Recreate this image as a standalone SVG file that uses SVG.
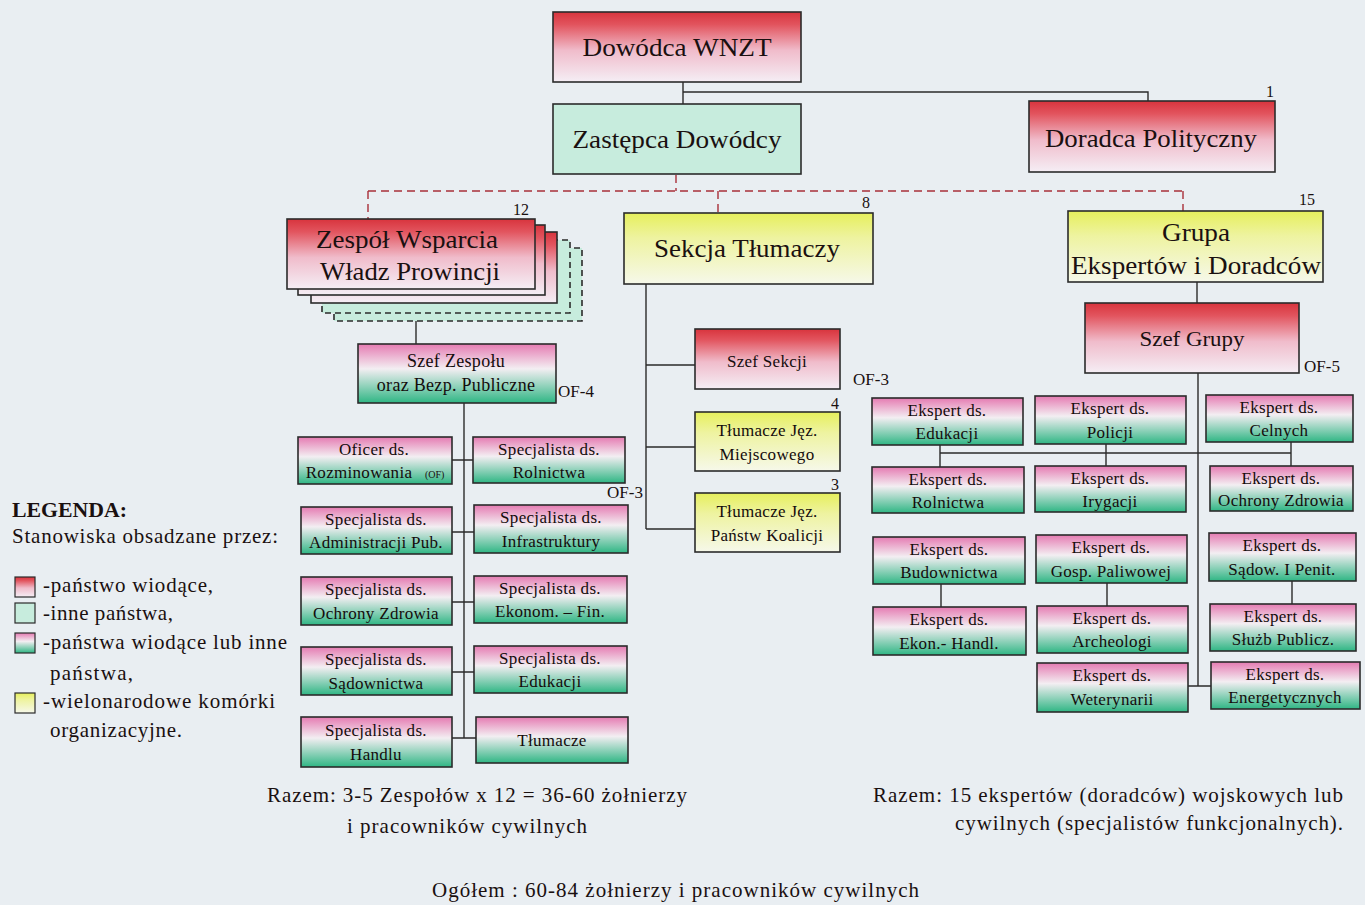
<svg xmlns="http://www.w3.org/2000/svg" width="1365" height="905" viewBox="0 0 1365 905">
  <defs>
    <linearGradient id="gRed" x1="0" y1="0" x2="0" y2="1">
      <stop offset="0" stop-color="#d8343d"/>
      <stop offset="0.18" stop-color="#e2545e"/>
      <stop offset="0.55" stop-color="#f0bccb"/>
      <stop offset="1" stop-color="#f5eef5"/>
    </linearGradient>
    <linearGradient id="gPinkGreen" x1="0" y1="0" x2="0" y2="1">
      <stop offset="0" stop-color="#e57bb2"/>
      <stop offset="0.42" stop-color="#f3eef2"/>
      <stop offset="1" stop-color="#2fb684"/>
    </linearGradient>
    <linearGradient id="gYellow" x1="0" y1="0" x2="0" y2="1">
      <stop offset="0" stop-color="#e6ef5c"/>
      <stop offset="0.35" stop-color="#eef3a0"/>
      <stop offset="1" stop-color="#f6f8ea"/>
    </linearGradient>
    <style>
      .bg { fill: #e9eef2; }
      .box { stroke: #2b2b2b; stroke-width: 1.6; }
      .red { fill: url(#gRed); }
      .pg { fill: url(#gPinkGreen); }
      .mint { fill: #c7ecdd; }
      .yel { fill: url(#gYellow); }
      .dash { stroke-dasharray: 6 4; }
      .big { font-family: "Liberation Serif", "Times New Roman", serif; font-size: 26px; fill: #1a1010; text-anchor: middle; }
      .mid { font-family: "Liberation Serif", "Times New Roman", serif; font-size: 21px; fill: #1a1010; text-anchor: middle; }
      .sm { font-family: "Liberation Serif", "Times New Roman", serif; font-size: 17px; fill: #140c0c; text-anchor: middle; letter-spacing: 0.3px; }
      .tag { font-family: "Liberation Serif", "Times New Roman", serif; font-size: 17px; fill: #1a1010; }
      .num { font-family: "Liberation Serif", "Times New Roman", serif; font-size: 16px; fill: #1a1010; }
      .leg { font-family: "Liberation Serif", "Times New Roman", serif; font-size: 21px; fill: #1a1010; }
      .ln { stroke: #2b2b2b; stroke-width: 1.4; fill: none; }
      .dln { stroke: #a8303a; stroke-width: 1.4; fill: none; stroke-dasharray: 8 5; }
    </style>
  </defs>

  <rect class="bg" x="0" y="0" width="1365" height="905"/>

  <!-- connectors -->
  <g id="connectors">
    <path class="ln" d="M683 82 V104 M683 92 H1148 V101"/>
    <path class="dln" d="M676 175 V191 M368 191 H1183 M368 191 V219 M718 191 V213 M1183 191 V211"/>
    <path class="ln" d="M416 320 V344"/>
    <path class="ln" d="M464 403 V738"/>
    <path class="ln" d="M452 460 H474 M452 532 H474 M452 602 H474 M452 672 H474 M452 738 H476"/>
    <path class="ln" d="M646 284 V529 M646 365 H695 M646 447 H695 M646 529 H695"/>
    <path class="ln" d="M1197 282 V303"/>
    <path class="ln" d="M1198 373 V686 M1188 686 H1211"/>
    <path class="ln" d="M940 453 H1291 M940 445 V467 M1106 444 V466 M1291 442 V466"/>
    <path class="ln" d="M941 584 V607 M1107 583 V606 M1292 581 V604"/>
  </g>

  <!-- top level -->
  <g id="dowodca">
    <rect class="box red" x="553" y="12" width="248" height="70"/>
    <text class="big" x="677" y="56" textLength="189" lengthAdjust="spacingAndGlyphs">Dowódca WNZT</text>
  </g>
  <g id="zastepca">
    <rect class="box mint" x="553" y="104" width="248" height="70"/>
    <text class="big" x="677" y="148" textLength="209" lengthAdjust="spacingAndGlyphs">Zastępca Dowódcy</text>
  </g>
  <g id="doradca">
    <rect class="box red" x="1029" y="101" width="246" height="71"/>
    <text class="big" x="1151" y="147" textLength="212" lengthAdjust="spacingAndGlyphs">Doradca Polityczny</text>
    <text class="num" x="1266" y="97">1</text>
  </g>

  <!-- team stack -->
  <g id="zespol">
    <rect class="box mint dash" x="334" y="248" width="248" height="73"/>
    <rect class="box mint dash" x="322" y="240" width="248" height="73"/>
    <rect class="box red" x="311" y="232" width="246" height="71"/>
    <rect class="box red" x="298" y="225" width="247" height="70"/>
    <rect class="box red" x="287" y="219" width="248" height="70"/>
    <text class="big" x="407" y="248" textLength="182" lengthAdjust="spacingAndGlyphs">Zespół Wsparcia</text>
    <text class="big" x="410" y="280" textLength="180" lengthAdjust="spacingAndGlyphs">Władz Prowincji</text>
    <text class="num" x="513" y="215">12</text>
  </g>

  <g id="sekcja">
    <rect class="box yel" x="624" y="213" width="249" height="71"/>
    <text class="big" x="747" y="257" textLength="186" lengthAdjust="spacingAndGlyphs">Sekcja Tłumaczy</text>
    <text class="num" x="862" y="208">8</text>
  </g>

  <g id="grupa">
    <rect class="box yel" x="1068" y="211" width="255" height="71"/>
    <text class="big" x="1196" y="241" textLength="68" lengthAdjust="spacingAndGlyphs">Grupa</text>
    <text class="big" x="1196" y="274" textLength="250" lengthAdjust="spacingAndGlyphs">Ekspertów i Doradców</text>
    <text class="num" x="1299" y="205">15</text>
  </g>

  <!-- team members -->
  <g id="szef-zespolu">
    <rect class="box pg" x="358" y="344" width="198" height="59"/>
    <text class="sm" x="456" y="367" style="font-size:18px">Szef Zespołu</text>
    <text class="sm" x="456" y="391" style="font-size:18px">oraz Bezp. Publiczne</text>
    <text class="tag" x="558" y="397">OF-4</text>
  </g>
  <g id="oficer-rozminowania">
    <rect class="box pg" x="298" y="437" width="154" height="47"/>
    <text class="sm" x="374" y="455">Oficer ds.</text>
    <text class="sm" x="359" y="478">Rozminowania</text>
    <text x="425" y="478" style="font-family:'Liberation Serif',serif;font-size:10px;fill:#1a1010">(OF)</text>
  </g>
  <g id="spec-rolnictwa">
    <rect class="box pg" x="473" y="437" width="152" height="46"/>
    <text class="sm" x="549" y="455">Specjalista ds.</text>
    <text class="sm" x="549" y="478">Rolnictwa</text>
    <text class="tag" x="607" y="498">OF-3</text>
  </g>
  <g id="spec-administracji">
    <rect class="box pg" x="301" y="507" width="151" height="47"/>
    <text class="sm" x="376" y="525">Specjalista ds.</text>
    <text class="sm" x="376" y="548">Administracji Pub.</text>
  </g>
  <g id="spec-infrastruktury">
    <rect class="box pg" x="474" y="505" width="154" height="48"/>
    <text class="sm" x="551" y="523">Specjalista ds.</text>
    <text class="sm" x="551" y="547">Infrastruktury</text>
  </g>
  <g id="spec-ochrony-zdrowia">
    <rect class="box pg" x="301" y="577" width="151" height="48"/>
    <text class="sm" x="376" y="595">Specjalista ds.</text>
    <text class="sm" x="376" y="619">Ochrony Zdrowia</text>
  </g>
  <g id="spec-ekonom">
    <rect class="box pg" x="474" y="576" width="153" height="47"/>
    <text class="sm" x="550" y="594">Specjalista ds.</text>
    <text class="sm" x="550" y="617">Ekonom. – Fin.</text>
  </g>
  <g id="spec-sadownictwa">
    <rect class="box pg" x="301" y="647" width="151" height="48"/>
    <text class="sm" x="376" y="665">Specjalista ds.</text>
    <text class="sm" x="376" y="689">Sądownictwa</text>
  </g>
  <g id="spec-edukacji">
    <rect class="box pg" x="474" y="646" width="153" height="47"/>
    <text class="sm" x="550" y="664">Specjalista ds.</text>
    <text class="sm" x="550" y="687">Edukacji</text>
  </g>
  <g id="spec-handlu">
    <rect class="box pg" x="301" y="717" width="151" height="50"/>
    <text class="sm" x="376" y="736">Specjalista ds.</text>
    <text class="sm" x="376" y="760">Handlu</text>
  </g>
  <g id="tlumacze">
    <rect class="box pg" x="476" y="717" width="152" height="46"/>
    <text class="sm" x="552" y="746">Tłumacze</text>
  </g>

  <!-- translators section -->
  <g id="szef-sekcji">
    <rect class="box red" x="695" y="329" width="145" height="60"/>
    <text class="sm" x="767" y="367">Szef Sekcji</text>
    <text class="tag" x="853" y="385">OF-3</text>
  </g>
  <g id="tlumacze-miejscowego">
    <rect class="box yel" x="695" y="412" width="145" height="59"/>
    <text class="sm" x="767" y="436">Tłumacze Jęz.</text>
    <text class="sm" x="767" y="460">Miejscowego</text>
    <text class="num" x="831" y="409">4</text>
  </g>
  <g id="tlumacze-koalicji">
    <rect class="box yel" x="695" y="493" width="145" height="59"/>
    <text class="sm" x="767" y="517">Tłumacze Jęz.</text>
    <text class="sm" x="767" y="541">Państw Koalicji</text>
    <text class="num" x="831" y="490">3</text>
  </g>

  <!-- expert group -->
  <g id="szef-grupy">
    <rect class="box red" x="1085" y="303" width="214" height="70"/>
    <text class="mid" x="1192" y="346" textLength="105" lengthAdjust="spacingAndGlyphs">Szef Grupy</text>
    <text class="tag" x="1304" y="372">OF-5</text>
  </g>
  <g id="eks-edukacji">
    <rect class="box pg" x="872" y="398" width="151" height="47"/>
    <text class="sm" x="947" y="416">Ekspert ds.</text>
    <text class="sm" x="947" y="439">Edukacji</text>
  </g>
  <g id="eks-policji">
    <rect class="box pg" x="1035" y="396" width="151" height="48"/>
    <text class="sm" x="1110" y="414">Ekspert ds.</text>
    <text class="sm" x="1110" y="438">Policji</text>
  </g>
  <g id="eks-celnych">
    <rect class="box pg" x="1206" y="395" width="147" height="47"/>
    <text class="sm" x="1279" y="413">Ekspert ds.</text>
    <text class="sm" x="1279" y="436">Celnych</text>
  </g>
  <g id="eks-rolnictwa">
    <rect class="box pg" x="872" y="467" width="152" height="46"/>
    <text class="sm" x="948" y="485">Ekspert ds.</text>
    <text class="sm" x="948" y="508">Rolnictwa</text>
  </g>
  <g id="eks-irygacji">
    <rect class="box pg" x="1035" y="466" width="151" height="46"/>
    <text class="sm" x="1110" y="484">Ekspert ds.</text>
    <text class="sm" x="1110" y="507">Irygacji</text>
  </g>
  <g id="eks-ochrony-zdrowia">
    <rect class="box pg" x="1210" y="466" width="143" height="45"/>
    <text class="sm" x="1281" y="484">Ekspert ds.</text>
    <text class="sm" x="1281" y="506">Ochrony Zdrowia</text>
  </g>
  <g id="eks-budownictwa">
    <rect class="box pg" x="873" y="537" width="152" height="47"/>
    <text class="sm" x="949" y="555">Ekspert ds.</text>
    <text class="sm" x="949" y="578">Budownictwa</text>
  </g>
  <g id="eks-paliwowej">
    <rect class="box pg" x="1036" y="535" width="151" height="48"/>
    <text class="sm" x="1111" y="553">Ekspert ds.</text>
    <text class="sm" x="1111" y="577">Gosp. Paliwowej</text>
  </g>
  <g id="eks-sadow">
    <rect class="box pg" x="1209" y="533" width="147" height="48"/>
    <text class="sm" x="1282" y="551">Ekspert ds.</text>
    <text class="sm" x="1282" y="575">Sądow. I Penit.</text>
  </g>
  <g id="eks-ekon-handl">
    <rect class="box pg" x="873" y="607" width="153" height="48"/>
    <text class="sm" x="949" y="625">Ekspert ds.</text>
    <text class="sm" x="949" y="649">Ekon.- Handl.</text>
  </g>
  <g id="eks-archeologi">
    <rect class="box pg" x="1037" y="606" width="151" height="47"/>
    <text class="sm" x="1112" y="624">Ekspert ds.</text>
    <text class="sm" x="1112" y="647">Archeologi</text>
  </g>
  <g id="eks-sluzb">
    <rect class="box pg" x="1210" y="604" width="146" height="47"/>
    <text class="sm" x="1283" y="622">Ekspert ds.</text>
    <text class="sm" x="1283" y="645">Służb Publicz.</text>
  </g>
  <g id="eks-weterynarii">
    <rect class="box pg" x="1037" y="663" width="151" height="49"/>
    <text class="sm" x="1112" y="681">Ekspert ds.</text>
    <text class="sm" x="1112" y="705">Weterynarii</text>
  </g>
  <g id="eks-energetycznych">
    <rect class="box pg" x="1211" y="662" width="149" height="47"/>
    <text class="sm" x="1285" y="680">Ekspert ds.</text>
    <text class="sm" x="1285" y="703">Energetycznych</text>
  </g>

  <!-- legend -->
  <g id="legenda">
    <text class="leg" x="12" y="517" style="font-weight:bold" textLength="115" lengthAdjust="spacingAndGlyphs">LEGENDA:</text>
    <text class="leg" x="12" y="543" textLength="266" lengthAdjust="spacing">Stanowiska obsadzane przez:</text>
    <rect class="box red" x="15" y="577" width="20" height="20" style="stroke-width:1.2"/>
    <text class="leg" x="43" y="592" textLength="170" lengthAdjust="spacing">-państwo wiodące,</text>
    <rect class="box mint" x="15" y="603" width="20" height="20" style="stroke-width:1.2"/>
    <text class="leg" x="43" y="620" textLength="130" lengthAdjust="spacing">-inne państwa,</text>
    <rect class="box pg" x="15" y="633" width="20" height="20" style="stroke-width:1.2"/>
    <text class="leg" x="43" y="649" textLength="244" lengthAdjust="spacing">-państwa wiodące lub inne</text>
    <text class="leg" x="50" y="680" textLength="83" lengthAdjust="spacing">państwa,</text>
    <rect class="box yel" x="15" y="693" width="20" height="20" style="stroke-width:1.2"/>
    <text class="leg" x="43" y="708" textLength="232" lengthAdjust="spacing">-wielonarodowe komórki</text>
    <text class="leg" x="50" y="737" textLength="132" lengthAdjust="spacing">organizacyjne.</text>
  </g>

  <!-- totals -->
  <g id="podsumowanie">
    <text class="leg" x="267" y="802" textLength="420" lengthAdjust="spacing">Razem: 3-5 Zespołów x 12 = 36-60 żołnierzy</text>
    <text class="leg" x="347" y="833" textLength="240" lengthAdjust="spacing">i pracowników cywilnych</text>
    <text class="leg" x="873" y="802" textLength="470" lengthAdjust="spacing">Razem: 15 ekspertów (doradców) wojskowych lub</text>
    <text class="leg" x="955" y="830" textLength="388" lengthAdjust="spacing">cywilnych (specjalistów funkcjonalnych).</text>
    <text class="leg" x="432" y="897" textLength="487" lengthAdjust="spacing">Ogółem : 60-84 żołnierzy i pracowników cywilnych</text>
  </g>
</svg>
